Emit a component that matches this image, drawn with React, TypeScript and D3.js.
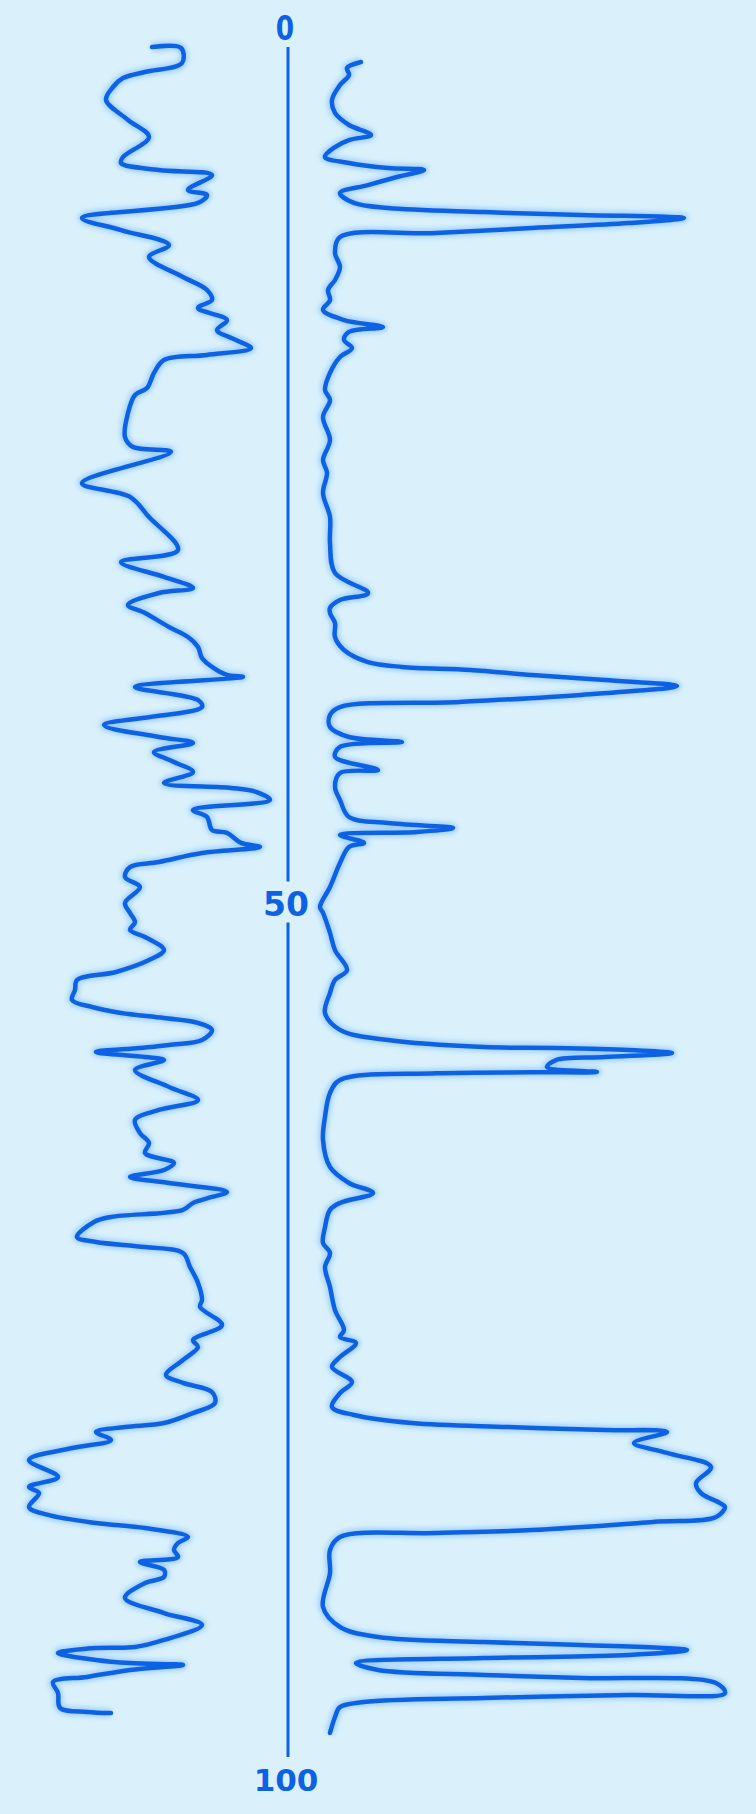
import React, { useEffect, useRef } from 'react';
import * as d3 from 'd3';

// depth ticks on the centre scale
const depthTicks = [0, 50, 100];

// left log: [depth, value]
const leftLog: [number, number][] = [
  [1.09, 66], [1.14, 80.5], [2.0, 81], [2.51, 62.5], [2.86, 51.5], [3.37, 46.5], [4.11, 43],
  [5.25, 54], [6.22, 64.5], [7.37, 51.5], [7.71, 50.5], [8.11, 69.5], [8.4, 96], [9.25, 84],
  [9.54, 93.5], [9.99, 89], [10.85, 31], [11.54, 50.5], [12.39, 74.5], [13.08, 64.5], [14.22, 81.5],
  [14.96, 93.5], [15.53, 96], [15.99, 89], [16.68, 103.5], [17.25, 98.5], [17.82, 108], [18.28, 115.5],
  [18.67, 93.5], [18.96, 72], [19.7, 67], [20.56, 63.5], [20.96, 57.5], [21.99, 54], [23.36, 52.5],
  [23.93, 56.5], [24.21, 75.5], [25.99, 31], [26.78, 55], [27.93, 64.5], [29.81, 79], [30.5, 50.5],
  [31.35, 72], [31.98, 86.5], [32.27, 69.5], [32.95, 54], [33.41, 62.5], [34.21, 74.5], [34.78, 84],
  [35.35, 89], [35.98, 91], [36.49, 96], [36.95, 103.5], [37.06, 111.5], [37.64, 57.5], [38.38, 89],
  [38.78, 91], [39.81, 42], [40.49, 69.5], [40.83, 86.5], [41.35, 67], [41.92, 77], [42.49, 86.5],
  [43.12, 72], [43.4, 105.5], [43.63, 118], [44.09, 125], [44.66, 86.5], [45.06, 93.5], [45.8, 96],
  [45.97, 103.5], [46.54, 110.5], [46.77, 120], [47.12, 91], [47.63, 69.5], [47.92, 55], [48.49, 52.5],
  [49.06, 60], [49.97, 52.5], [50.54, 55], [51.06, 57.5], [51.51, 55], [51.91, 62.5], [52.66, 72],
  [53.23, 64.5], [53.91, 48], [54.37, 28.5], [54.94, 27.5], [55.51, 26], [55.91, 36], [56.25, 50.5],
  [56.54, 72], [56.82, 89], [57.22, 96], [57.8, 91], [58.08, 74.5], [58.25, 60], [58.48, 38],
  [58.77, 62.5], [58.94, 72], [59.51, 57.5], [60.48, 74.5], [61.22, 89], [61.79, 69.5], [62.36, 57.5],
  [63.11, 60], [63.68, 64.5], [64.25, 62.5], [64.82, 77], [65.22, 72], [65.62, 55], [65.96, 74.5],
  [66.48, 103.5], [66.76, 96], [67.1, 86.5], [67.5, 81.5], [67.9, 45.5], [68.19, 37], [69.05, 28.5],
  [69.33, 38], [69.62, 62.5], [69.96, 81.5], [70.76, 85], [71.67, 89], [72.64, 91], [73.04, 90],
  [74.07, 101], [74.93, 86.5], [75.33, 89], [76.07, 81.5], [76.93, 73], [77.38, 81.5], [77.9, 96],
  [78.53, 97.5], [79.1, 86.5], [79.67, 72], [79.9, 52.5], [80.18, 38], [80.64, 45.5], [81.1, 26],
  [81.78, 4.5], [82.75, 19], [83.32, 4.5], [83.67, 9.5], [84.47, 4.5], [84.92, 14], [85.38, 38],
  [85.67, 62.5], [86.18, 84], [86.52, 79], [86.92, 77], [87.32, 79], [87.61, 60], [88.06, 72],
  [88.46, 72], [88.81, 62.5], [89.66, 52.5], [90.52, 72], [91.2, 91], [92.06, 72], [92.46, 57.5],
  [92.52, 38], [92.8, 19], [93.2, 38], [93.38, 55], [93.49, 81.5], [93.77, 55], [94.17, 33.5],
  [94.46, 16.5], [95.09, 19], [95.94, 20], [96.17, 33.5], [96.23, 45.5],
];

// right log: [depth, value]
const rightLog: [number, number][] = [
  [1.94, 29.5], [2.28, 22.5], [2.68, 23.5], [3.26, 19], [4.11, 15], [4.85, 16.5], [5.54, 23.5],
  [6.11, 34.5], [6.4, 23.5], [6.8, 16.5], [7.37, 11.5], [7.71, 23.5], [8.0, 43], [8.11, 61],
  [8.51, 47.5], [8.97, 33], [9.42, 19], [9.99, 26], [10.28, 43], [10.51, 91], [10.68, 139.5],
  [10.85, 191], [11.14, 163.5], [11.42, 115], [11.71, 67], [11.94, 19], [12.85, 16.5], [13.65, 19],
  [14.39, 16.5], [14.96, 13], [15.53, 14], [16.1, 10.5], [16.68, 21], [17.08, 40.5],
  [17.36, 23.5], [17.82, 21], [18.28, 25], [18.79, 19], [19.7, 14], [20.67, 11.5], [21.25, 14],
  [22.22, 10.5], [23.53, 14], [24.67, 10.5], [25.41, 12.5], [26.56, 10.5], [27.93, 14], [29.41, 14],
  [31.13, 16.5], [32.27, 33], [32.67, 19], [33.12, 14], [33.41, 14], [33.98, 16.5], [34.78, 16.5],
  [35.52, 21], [36.21, 33], [36.49, 50], [36.66, 84], [36.95, 115], [37.24, 151.5], [37.58, 187.5],
  [38.09, 139.5], [38.49, 79], [38.78, 19], [39.23, 14], [39.92, 14], [40.49, 23.5], [40.78, 50],
  [41.06, 19], [41.63, 16.5], [42.38, 38], [42.55, 19], [43.35, 16.5], [44.09, 19], [45.06, 23.5],
  [45.4, 43], [45.69, 75.5], [45.92, 57.5], [46.09, 19], [46.54, 31], [46.77, 23.5], [47.69, 19],
  [49.06, 14], [50.2, 9], [50.54, 10.5], [51.68, 14], [52.66, 16.5], [53.8, 22.5], [54.37, 16.5],
  [55.11, 14], [56.25, 11.5], [57.22, 19], [57.8, 43], [58.2, 91], [58.25, 127], [58.37, 163.5],
  [58.54, 185], [58.77, 151.5], [58.94, 127], [59.34, 122.5], [59.62, 147.5], [59.64, 115],
  [59.7, 67], [60.08, 19], [60.82, 14], [62.19, 11.5], [63.51, 10.5], [65.05, 14], [65.96, 23.5],
  [66.53, 35.5], [67.1, 19], [67.5, 14], [68.48, 11.5], [69.39, 10.5], [69.96, 14], [70.76, 11.5],
  [71.9, 14], [73.22, 16.5], [74.36, 21], [74.76, 19], [75.1, 27], [75.9, 19], [76.47, 15],
  [77.33, 25], [77.96, 19], [78.76, 15], [79.21, 26], [79.67, 55], [79.9, 103], [80.07, 151.5],
  [80.18, 182.5], [80.81, 166], [81.38, 182.5], [82.18, 204.5], [83.1, 197], [83.67, 199.5],
  [84.24, 209], [84.47, 211.5], [85.04, 207], [85.32, 175.5], [85.78, 115], [85.95, 67], [86.18, 19],
  [86.92, 14], [88.24, 14], [90.18, 10.5], [91.32, 19], [91.89, 38], [92.18, 91], [92.35, 139.5],
  [92.63, 192.5], [92.92, 163.5], [93.09, 91], [93.38, 27], [93.77, 38], [94.06, 91], [94.23, 139.5],
  [94.52, 207], [95.09, 211.5], [95.2, 163.5], [95.37, 91], [95.6, 31], [95.89, 19], [96.46, 16.5],
  [97.37, 14],
];

const WIDTH = 756;
const HEIGHT = 1814;
const BLUE = '#0d62e4';

const App = () => {
  const svgRef = useRef<SVGSVGElement>(null);

  useEffect(() => {
    const svg = d3.select(svgRef.current);
    svg.selectAll('*').remove();

    const y = d3.scaleLinear().domain([0, 100]).range([28, 1779]);
    const xLeft = d3.scaleLinear().domain([0, 125]).range([20, 270]);
    const xRight = d3.scaleLinear().domain([0, 220]).range([302, 742]);
    const axisX = 288;

    const defs = svg.append('defs');
    defs.append('filter')
      .attr('id', 'glow')
      .attr('x', '-5%').attr('y', '-5%')
      .attr('width', '110%').attr('height', '110%')
      .append('feGaussianBlur')
      .attr('stdDeviation', 2.5);

    svg.append('rect')
      .attr('width', WIDTH)
      .attr('height', HEIGHT)
      .attr('fill', '#daf1fb');

    // centre depth line, broken around the labels
    for (let i = 0; i < depthTicks.length - 1; i++) {
      svg.append('line')
        .attr('x1', axisX).attr('x2', axisX)
        .attr('y1', y(depthTicks[i]) + 19)
        .attr('y2', y(depthTicks[i + 1]) - 22)
        .attr('stroke', BLUE)
        .attr('stroke-width', 3);
    }

    svg.selectAll('.tick-label')
      .data(depthTicks)
      .enter()
      .append('text')
      .attr('class', 'tick-label')
      .attr('transform', d => `translate(${d === 0 ? 285 : axisX - 2},${y(d) + 12}) scale(${d === 0 ? 0.8 : 1},1)`)
      .attr('text-anchor', 'middle')
      .style('font-family', '"DejaVu Sans", sans-serif')
      .style('font-weight', 'bold')
      .style('font-size', d => (d === 100 ? '31px' : '33px'))
      .style('fill', BLUE)
      .text(d => d);

    const drawLog = (data: [number, number][], x: d3.ScaleLinear<number, number>) => {
      const line = d3.line<[number, number]>()
        .x(d => x(d[1]))
        .y(d => y(d[0]))
        .curve(d3.curveCatmullRom.alpha(0.5));

      svg.append('path')
        .datum(data)
        .attr('d', line)
        .attr('fill', 'none')
        .attr('stroke', '#5aa8f7')
        .attr('stroke-width', 9)
        .attr('stroke-opacity', 0.45)
        .attr('stroke-linejoin', 'round')
        .attr('filter', 'url(#glow)');

      svg.append('path')
        .datum(data)
        .attr('d', line)
        .attr('fill', 'none')
        .attr('stroke', BLUE)
        .attr('stroke-width', 4.5)
        .attr('stroke-linejoin', 'round')
        .attr('stroke-linecap', 'round');
    };

    drawLog(leftLog, xLeft);
    drawLog(rightLog, xRight);
  }, []);

  return (
    <div style={{ position: 'absolute', top: 0, left: 0 }}>
      <svg ref={svgRef} width={WIDTH} height={HEIGHT} style={{ display: 'block' }}></svg>
    </div>
  );
};

export default App;
